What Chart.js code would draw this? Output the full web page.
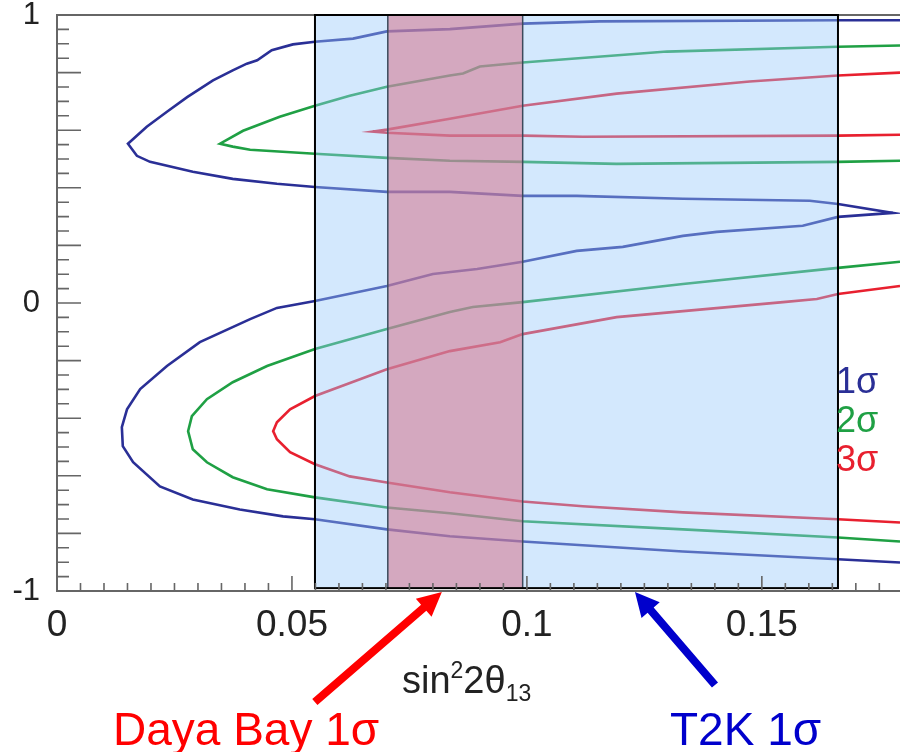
<!DOCTYPE html>
<html lang="en">
<head>
<meta charset="utf-8">
<title>sin22θ13 contours</title>
<script src="https://cdn.jsdelivr.net/npm/chart.js"></script>
<style>
  body { margin: 0; background: #fff; }
  #wrap { position: relative; width: 900px; height: 752px; }
</style>
</head>
<body>
<div id="wrap"><canvas id="myChart"></canvas></div>
<script>
// contour points: [sin^2 2theta13, delta/pi]
const sigma1 = [
  [0.1794,0.982],[0.1662,0.982],[0.1155,0.978],[0.0991,0.970],[0.0836,0.951],[0.0702,0.943],
  [0.0630,0.918],[0.0549,0.907],[0.0502,0.898],[0.0457,0.878],[0.0426,0.843],[0.0404,0.831],
  [0.0374,0.808],[0.0332,0.773],[0.0277,0.715],[0.0234,0.664],[0.0191,0.612],[0.0151,0.553],
  [0.0170,0.511],[0.0198,0.490],[0.0289,0.456],[0.0374,0.431],[0.0468,0.414],[0.0549,0.403],
  [0.0702,0.386],[0.0836,0.386],[0.0991,0.372],[0.1106,0.372],[0.1332,0.362],[0.1602,0.355],
  [0.1662,0.344],[0.1779,0.313],[0.1662,0.299],[0.1587,0.268],[0.1404,0.247],[0.1332,0.233],
  [0.1204,0.195],[0.1106,0.181],[0.0991,0.143],[0.0894,0.118],[0.0800,0.101],[0.0702,0.059],
  [0.0549,0.007],[0.0468,-0.017],[0.0411,-0.056],[0.0304,-0.136],[0.0234,-0.219],[0.0177,-0.299],
  [0.0149,-0.369],[0.0138,-0.431],[0.0140,-0.497],[0.0162,-0.553],[0.0219,-0.637],[0.0289,-0.682],
  [0.0389,-0.717],[0.0481,-0.741],[0.0549,-0.751],[0.0702,-0.786],[0.0836,-0.810],[0.0991,-0.828],
  [0.1332,-0.863],[0.1662,-0.890],[0.1794,-0.901]
];
const sigma2Upper = [
  [0.1794,0.894],[0.1662,0.890],[0.1298,0.873],[0.0991,0.835],[0.0900,0.821],[0.0864,0.797],
  [0.0836,0.790],[0.0702,0.751],[0.0623,0.720],[0.0549,0.685],[0.0474,0.647],[0.0396,0.598],
  [0.0347,0.553],[0.0374,0.543],[0.0411,0.532],[0.0549,0.518],[0.0702,0.504],[0.0836,0.494],
  [0.0991,0.490],[0.1191,0.483],[0.1662,0.490],[0.1794,0.494]
];
const sigma2Lower = [
  [0.1794,0.143],[0.1662,0.122],[0.1332,0.066],[0.0991,0.003],[0.0885,-0.014],[0.0836,-0.031],
  [0.0702,-0.090],[0.0549,-0.160],[0.0447,-0.219],[0.0374,-0.275],[0.0319,-0.334],[0.0287,-0.393],
  [0.0279,-0.445],[0.0289,-0.508],[0.0319,-0.553],[0.0374,-0.605],[0.0447,-0.647],[0.0549,-0.675],
  [0.0702,-0.710],[0.0836,-0.730],[0.0991,-0.758],[0.1332,-0.786],[0.1662,-0.814],[0.1794,-0.828]
];
const sigma3Upper = [
  [0.1794,0.800],[0.1662,0.790],[0.1474,0.769],[0.1191,0.727],[0.0991,0.685],[0.0836,0.640],
  [0.0702,0.602],[0.0672,0.595],[0.0702,0.591],[0.0836,0.581],[0.0991,0.581],[0.1119,0.577],
  [0.1662,0.581],[0.1794,0.584]
];
const sigma3Lower = [
  [0.1794,0.059],[0.1662,0.031],[0.1617,0.014],[0.1545,0.003],[0.1191,-0.049],[0.0991,-0.108],
  [0.0943,-0.136],[0.0836,-0.167],[0.0702,-0.230],[0.0549,-0.323],[0.0496,-0.369],[0.0468,-0.414],
  [0.0460,-0.445],[0.0468,-0.473],[0.0496,-0.518],[0.0549,-0.560],[0.0623,-0.602],[0.0702,-0.623],
  [0.0836,-0.657],[0.0991,-0.689],[0.1119,-0.706],[0.1332,-0.727],[0.1662,-0.751],[0.1794,-0.762]
];

const xTicks = [0, 0.05, 0.1, 0.15];
const yTicks = [-1, 0, 1];
const t2kRange = [0.0549, 0.1662];      // T2K 1 sigma band
const dayaBayRange = [0.0704, 0.0991];  // Daya Bay 1 sigma band
const bandY = [-0.99, 1];
const dayaBayArrowAt = 0.0819;
const t2kArrowAt = 0.1230;
const sigmaLabels = ['1σ', '2σ', '3σ'];

const BLUE = '#2a2f96', GREEN = '#1fa044', RED = '#e8202f';
const FONT = "'Liberation Sans', Arial, Helvetica, sans-serif";

const pts = arr => arr.map(p => ({ x: p[0], y: p[1] }));
function contour(label, arr, color) {
  return {
    label, data: pts(arr), showLine: true, borderColor: color, backgroundColor: color,
    borderWidth: 2.6, pointRadius: 0, fill: false, tension: 0
  };
}

function arrow(ctx, x0, y0, x1, y1, color) {
  const ang = Math.atan2(y1 - y0, x1 - x0);
  const len = Math.hypot(x1 - x0, y1 - y0);
  const w = 8, hl = 24, hw = 24;
  ctx.save();
  ctx.translate(x1, y1);
  ctx.rotate(ang);
  ctx.beginPath();
  ctx.moveTo(0, 0);
  ctx.lineTo(-hl, -hw / 2);
  ctx.lineTo(-hl, -w / 2);
  ctx.lineTo(-len, -w / 2);
  ctx.lineTo(-len, w / 2);
  ctx.lineTo(-hl, w / 2);
  ctx.lineTo(-hl, hw / 2);
  ctx.closePath();
  ctx.fillStyle = color;
  ctx.fill();
  ctx.restore();
}

const overlay = {
  id: 'overlay',
  afterDatasetsDraw(chart) {
    const { ctx, chartArea: a, scales: { x, y } } = chart;
    ctx.save();
    // frame
    ctx.strokeStyle = '#666';
    ctx.lineWidth = 2;
    ctx.beginPath();
    ctx.moveTo(a.right + 5, a.top); ctx.lineTo(a.left, a.top);
    ctx.lineTo(a.left, a.bottom); ctx.lineTo(a.right + 5, a.bottom);
    ctx.stroke();

    const top = y.getPixelForValue(bandY[1]), bot = y.getPixelForValue(bandY[0]);
    const tl = x.getPixelForValue(t2kRange[0]), tr = x.getPixelForValue(t2kRange[1]);
    const dl = x.getPixelForValue(dayaBayRange[0]), dr = x.getPixelForValue(dayaBayRange[1]);
    ctx.fillStyle = 'rgba(150,200,250,0.42)';
    ctx.fillRect(tl, top, tr - tl, bot - top);
    ctx.fillStyle = 'rgba(213,115,140,0.55)';
    ctx.fillRect(dl, top, dr - dl, bot - top);
    ctx.strokeStyle = '#3c4a5c';
    ctx.lineWidth = 1.5;
    ctx.beginPath();
    ctx.moveTo(dl, top); ctx.lineTo(dl, bot);
    ctx.moveTo(dr, top); ctx.lineTo(dr, bot);
    ctx.stroke();
    ctx.strokeStyle = '#000';
    ctx.lineWidth = 2;
    ctx.strokeRect(tl, top, tr - tl, bot - top);
    ctx.restore();
  },
  afterDraw(chart) {
    const { ctx, chartArea: a, scales: { x, y } } = chart;
    ctx.save();
    // inward tick marks
    ctx.strokeStyle = '#666';
    ctx.lineWidth = 1.6;
    ctx.beginPath();
    for (let i = -20; i <= 20; i++) {
      const py = y.getPixelForValue(i * 0.05);
      const len = (i % 4 === 0) ? 24 : 12;
      ctx.moveTo(a.left, py); ctx.lineTo(a.left + len, py);
    }
    for (let i = 1; i <= 36; i++) {
      const px = x.getPixelForValue(i * 0.005);
      if (px > a.right) break;
      const len = (i % 10 === 0) ? 15 : 8;
      ctx.moveTo(px, a.bottom); ctx.lineTo(px, a.bottom - len);
    }
    ctx.stroke();

    // sigma legend
    ctx.font = '36px ' + FONT;
    ctx.textAlign = 'left';
    ctx.textBaseline = 'alphabetic';
    [BLUE, GREEN, RED].forEach((c, i) => {
      ctx.fillStyle = c;
      ctx.fillText(sigmaLabels[i], 836, 393 + i * 39);
    });

    // x axis title: sin^2 2theta_13
    ctx.fillStyle = '#222';
    let cx = 402;
    const base = 693;
    ctx.font = '38px ' + FONT;
    ctx.fillText('sin', cx, base); cx += ctx.measureText('sin').width;
    ctx.font = '23px ' + FONT;
    ctx.fillText('2', cx, base - 15); cx += ctx.measureText('2').width;
    ctx.font = '38px ' + FONT;
    ctx.fillText('2θ', cx, base); cx += ctx.measureText('2θ').width;
    ctx.font = '23px ' + FONT;
    ctx.fillText('13', cx, base + 8);

    // arrows to the bands
    const ay = y.getPixelForValue(-1);
    const rx = x.getPixelForValue(dayaBayArrowAt);
    arrow(ctx, rx - 127, ay + 111, rx, ay + 1, '#ff0000');
    const bx = x.getPixelForValue(t2kArrowAt);
    arrow(ctx, bx + 80, ay + 94, bx, ay + 1, '#0000cc');

    ctx.font = '46px ' + FONT;
    ctx.fillStyle = '#ff0000';
    ctx.fillText('Daya Bay 1σ', 113, 745);
    ctx.fillStyle = '#0000cc';
    ctx.fillText('T2K 1σ', 670, 745);
    ctx.restore();
  }
};

new Chart(document.getElementById('myChart'), {
  type: 'scatter',
  data: {
    datasets: [
      contour('1σ', sigma1, BLUE),
      contour('2σ upper', sigma2Upper, GREEN),
      contour('2σ lower', sigma2Lower, GREEN),
      contour('3σ upper', sigma3Upper, RED),
      contour('3σ lower', sigma3Lower, RED)
    ]
  },
  options: {
    responsive: true,
    maintainAspectRatio: false,
    animation: false,
    layout: { padding: { top: 15, right: 0, left: 0, bottom: 0 } },
    plugins: { legend: { display: false }, tooltip: { enabled: false } },
    scales: {
      x: {
        type: 'linear', min: 0, max: 0.1794,
        afterBuildTicks: s => { s.ticks = xTicks.map(v => ({ value: v })); },
        afterFit: s => { s.height = 161; s.paddingLeft = 0; s.paddingRight = 0; },
        grid: { display: false }, border: { display: false },
        ticks: { font: { family: FONT, size: 37 }, color: '#222', padding: 5,
                 maxRotation: 0, autoSkip: false, callback: v => String(v) }
      },
      y: {
        type: 'linear', min: -1, max: 1,
        afterBuildTicks: s => { s.ticks = yTicks.map(v => ({ value: v })); },
        afterFit: s => { s.width = 57; s.paddingTop = 0; s.paddingBottom = 0; },
        grid: { display: false }, border: { display: false },
        ticks: { font: { family: FONT, size: 31 }, color: '#222', padding: 9,
                 autoSkip: false, callback: v => String(v) }
      }
    }
  },
  plugins: [overlay]
});
</script>
</body>
</html>
